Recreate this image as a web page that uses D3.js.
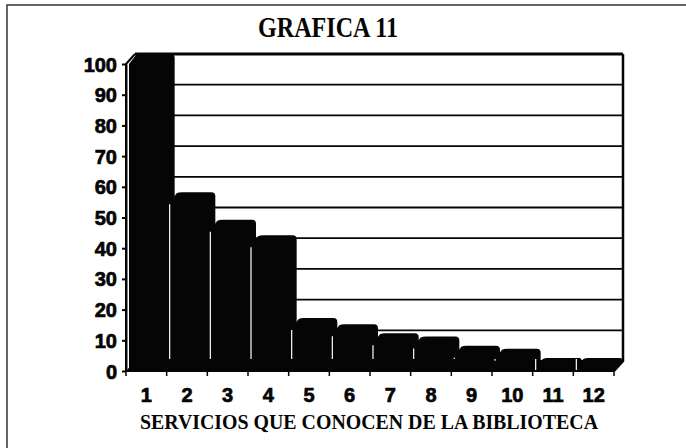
<!DOCTYPE html>
<html>
<head>
<meta charset="utf-8">
<script src="https://cdn.jsdelivr.net/npm/d3@7"></script>
<style>
  html, body { margin: 0; padding: 0; background: #fff; }
  svg { display: block; }
</style>
</head>
<body>
<svg id="chart" width="686" height="448"></svg>
<script>
const categories = ["1","2","3","4","5","6","7","8","9","10","11","12"];
const values = [100, 55, 46, 41, 14, 12, 9, 8, 5, 4, 1, 1];
const yTicks = [0,10,20,30,40,50,60,70,80,90,100];
const titleText = "GRAFICA 11";
const xTitleText = "SERVICIOS QUE CONOCEN DE LA BIBLIOTECA";

const svg = d3.select("#chart");
const ink = "#050505";
const dx = 9, dy = 10;

const x = d3.scaleBand().domain(categories).range([126, 614]).paddingInner(0).paddingOuter(0);
const y = d3.scaleLinear().domain([0, 100]).range([371, 64]);

// outer frame
svg.append("path")
  .attr("d", "M7,448 L7,5 L686,5")
  .attr("fill", "none").attr("stroke", "#333").attr("stroke-width", 1.5);

// title
svg.append("text")
  .attr("x", 328).attr("y", 37)
  .attr("text-anchor", "middle")
  .attr("font-family", "Liberation Serif, Times New Roman, serif")
  .attr("font-weight", "bold").attr("font-size", 30)
  .attr("textLength", 140).attr("lengthAdjust", "spacingAndGlyphs")
  .attr("fill", ink).text(titleText);

const x0 = x.range()[0], x1 = x.range()[1];

// back wall grid lines
svg.append("g").selectAll("line").data(yTicks).join("line")
  .attr("x1", x0 + dx).attr("x2", x1 + dx)
  .attr("y1", d => y(d) - dy).attr("y2", d => y(d) - dy)
  .attr("stroke", ink).attr("stroke-width", d => d === 100 ? 3 : 1.8);

// right wall edge and left wall edge
svg.append("path")
  .attr("d", `M${x1 + dx},${y(100) - dy} L${x1 + dx},${y(0) - dy} L${x1},${y(0)}`)
  .attr("fill", "none").attr("stroke", ink).attr("stroke-width", 2.5);
svg.append("path")
  .attr("d", `M${x0},${y(0)} L${x0},${y(100)} L${x0 + dx},${y(100) - dy}`)
  .attr("fill", "none").attr("stroke", ink).attr("stroke-width", 2);

// floor
svg.append("path")
  .attr("d", `M${x0},${y(0)} L${x1},${y(0)} L${x1 + dx},${y(0) - dy} L${x0 + dx},${y(0) - dy} Z`)
  .attr("fill", ink);

// bars (3D)
const inset = 3, faceW = x.bandwidth() - 4;
const bars = svg.append("g");
categories.forEach((c, i) => {
  const bx0 = x(c) + inset, bx1 = bx0 + faceW;
  const yt = y(values[i]), yb = y(0);
  const r = Math.min(4, (yb - yt) / 2);
  bars.append("path")
    .attr("d", `M${bx0},${yb} L${bx0},${yt} L${bx0 + dx - 2},${yt - dy + 1} Q${bx0 + dx},${yt - dy} ${bx0 + dx + 3},${yt - dy}
      L${bx1 + dx - r},${yt - dy} Q${bx1 + dx},${yt - dy} ${bx1 + dx},${yt - dy + r}
      L${bx1 + dx},${yb - dy} L${bx1},${yb} Z`)
    .attr("fill", ink);
  if (i > 0) {
    bars.append("line")
      .attr("x1", bx0).attr("x2", bx0)
      .attr("y1", yt + 2).attr("y2", yb - dy - 2)
      .attr("stroke", "#fff").attr("stroke-width", 1.2);
  }
});

// y axis
const yAxis = d3.axisLeft(y).tickValues(yTicks).tickSize(4).tickSizeOuter(0).tickPadding(5);
const gy = svg.append("g").attr("transform", `translate(${x0},0)`).call(yAxis);
gy.select(".domain").attr("stroke", ink).attr("stroke-width", 2);
gy.selectAll(".tick line").attr("stroke", ink).attr("stroke-width", 2);
gy.selectAll("text")
  .attr("font-family", "Liberation Sans, Arial, sans-serif")
  .attr("font-weight", "bold").attr("font-size", 20)
  .attr("fill", ink).attr("stroke", ink).attr("stroke-width", 0.7)
  .attr("dy", "0.35em");

// x axis baseline and ticks
svg.append("line")
  .attr("x1", x0).attr("x2", x1).attr("y1", y(0)).attr("y2", y(0))
  .attr("stroke", ink).attr("stroke-width", 2);
const boundaries = categories.map(c => x(c)).concat([x1]);
svg.append("g").selectAll("line").data(boundaries).join("line")
  .attr("x1", d => d).attr("x2", d => d)
  .attr("y1", y(0)).attr("y2", y(0) + 5)
  .attr("stroke", ink).attr("stroke-width", 1.5);

// x labels
svg.append("g").selectAll("text").data(categories).join("text")
  .attr("x", d => x(d) + inset + faceW / 2 - 1)
  .attr("y", 402)
  .attr("text-anchor", "middle")
  .attr("font-family", "Liberation Sans, Arial, sans-serif")
  .attr("font-weight", "bold").attr("font-size", 20)
  .attr("fill", ink).attr("stroke", ink).attr("stroke-width", 0.7)
  .text(d => d);

// x title
svg.append("text")
  .attr("x", 140).attr("y", 429)
  .attr("font-family", "Liberation Serif, Times New Roman, serif")
  .attr("font-weight", "bold").attr("font-size", 21)
  .attr("textLength", 458).attr("lengthAdjust", "spacingAndGlyphs")
  .attr("fill", ink).text(xTitleText);
</script>
</body>
</html>
